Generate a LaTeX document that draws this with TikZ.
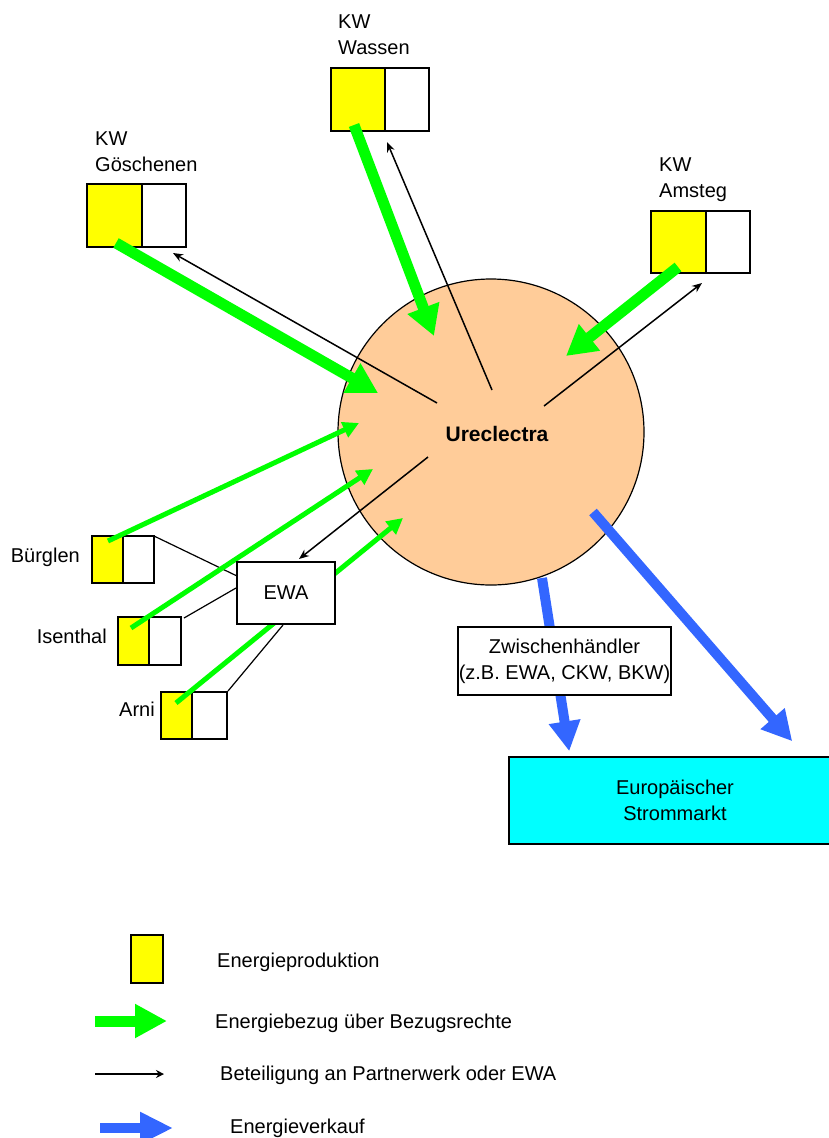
\documentclass[tikz,border=0pt]{standalone}
\usepackage{fontspec}
\setmainfont{Liberation Sans}
\usepackage{xcolor}
\usetikzlibrary{arrows.meta, positioning, calc}
\definecolor{prodyellow}{HTML}{FFFF00}
\definecolor{bezuggreen}{HTML}{00FF00}
\definecolor{verkaufblue}{HTML}{3366FF}
\definecolor{urefill}{HTML}{FFCC99}
\definecolor{marktcyan}{HTML}{00FFFF}

\begin{document}
\begin{tikzpicture}[x=1pt, y=-1pt, font=\fontsize{20}{26}\selectfont]
  \tikzstyle{prod} = [draw, line width=1.5pt, fill=prodyellow, inner sep=0pt, outer sep=0pt, anchor=north west]
  \tikzstyle{share} = [draw, line width=1.5pt, fill=white, inner sep=0pt, outer sep=0pt]
  \tikzstyle{plain} = [draw, line width=1.5pt, fill=white, align=center]
  \tikzstyle{plantlabel} = [inner sep=0pt, align=left]
  \tikzstyle{bezug} = [bezuggreen, line width=11pt, -{Triangle[width=32pt,length=30pt]}]
  \tikzstyle{bezugsmall} = [bezuggreen, line width=5pt, -{Triangle[width=16pt,length=16pt]}]
  \tikzstyle{beteiligung} = [black, line width=1.5pt, -{Stealth[width=8pt,length=10pt]}]
  \tikzstyle{ewaline} = [black, line width=1.2pt]
  \tikzstyle{verkauf} = [verkaufblue, line width=10pt, -{Triangle[width=30pt,length=30pt]}]

  \useasboundingbox (0,0) rectangle (828,1138);

  \node[circle, draw, line width=1.2pt, fill=urefill, minimum size=306pt, inner sep=0pt,
        label={[font=\fontsize{21}{26}\selectfont\bfseries, xshift=6pt, yshift=-2pt]center:Ureclectra}] (Ureclectra) at (491,432) {};

  \node[prod, minimum width=54pt, minimum height=63pt] (WassenProd) at (331,68) {};
  \node[share, minimum width=44pt, minimum height=63pt, right=0pt of WassenProd] (WassenShare) {};
  \node[prod, minimum width=55pt, minimum height=63pt] (GoeschenenProd) at (87,184) {};
  \node[share, minimum width=44pt, minimum height=63pt, right=0pt of GoeschenenProd] (GoeschenenShare) {};
  \node[prod, minimum width=55pt, minimum height=62pt] (AmstegProd) at (651,211) {};
  \node[share, minimum width=44pt, minimum height=62pt, right=0pt of AmstegProd] (AmstegShare) {};
  \node[prod, minimum width=31pt, minimum height=47pt] (BuerglenProd) at (92,536) {};
  \node[share, minimum width=31pt, minimum height=47pt, right=0pt of BuerglenProd] (BuerglenShare) {};
  \node[prod, minimum width=31pt, minimum height=48pt] (IsenthalProd) at (118,617) {};
  \node[share, minimum width=32pt, minimum height=48pt, right=0pt of IsenthalProd] (IsenthalShare) {};
  \node[prod, minimum width=31pt, minimum height=47pt] (ArniProd) at (161,692) {};
  \node[share, minimum width=35pt, minimum height=47pt, right=0pt of ArniProd] (ArniShare) {};

  \node[plantlabel, anchor=north west] (WassenName) at (338,15) {KW\\Wassen};
  \node[plantlabel, anchor=north west] (GoeschenenName) at (95,132) {KW\\Göschenen};
  \node[plantlabel, anchor=north west] (AmstegName) at (659,158) {KW\\Amsteg};
  \node[plantlabel, anchor=base east] (BuerglenName) at (80,562) {Bürglen};
  \node[plantlabel, anchor=base east] (IsenthalName) at (107,643) {Isenthal};
  \node[plantlabel, anchor=base east] (ArniName) at (155,716) {Arni};

  \coordinate (EWAcentre) at (286,593);
  \draw[ewaline] (BuerglenShare.north east) -- ([shift={(-49,-17)}]EWAcentre);
  \draw[ewaline] ([shift={(3,1)}]IsenthalShare.north east) -- ([shift={(-50,-5)}]EWAcentre);
  \draw[ewaline] ([shift={(1,-1)}]ArniShare.north east) -- ([shift={(-3,32)}]EWAcentre);

  \draw[bezug] ([shift={(29,-4)}]GoeschenenProd.south west) -- ($(Ureclectra)+(-113,-39)$);
  \draw[bezug] ([shift={(23,-6)}]WassenProd.south west) -- ($(Ureclectra)+(-57,-96)$);
  \draw[bezug] ([shift={(27,-6)}]AmstegProd.south west) -- ($(Ureclectra)+(75,-76)$);
  \draw[bezugsmall] ([shift={(16,-42)}]BuerglenProd.south west) -- ($(Ureclectra)+(-132,-9)$);
  \draw[bezugsmall] ([shift={(13,-37)}]IsenthalProd.south west) -- ($(Ureclectra)+(-118,37)$);
  \draw[bezugsmall] ([shift={(15,-36)}]ArniProd.south west) -- ($(Ureclectra)+(-88,86)$);

  \draw[beteiligung] ($(Ureclectra)+(-54,-29)$) -- ([shift={(9,6)}]GoeschenenShare.south);
  \draw[beteiligung] ($(Ureclectra)+(1,-42)$) -- ([shift={(2,11)}]WassenShare.south west);
  \draw[beteiligung] ($(Ureclectra)+(53,-26)$) -- ([shift={(-4,10)}]AmstegShare.south west);
  \draw[beteiligung] ($(Ureclectra)+(-63,25)$) -- ([shift={(13,-34)}]EWAcentre);

  \node[plain, fill=marktcyan, minimum width=332pt, minimum height=87pt] (Markt) at (675,800.5) {Europäischer\\Strommarkt};
  \draw[verkauf] ($(Ureclectra)+(51,146)$) -- ([shift={(61,-5)}]Markt.north west);
  \draw[verkauf] ($(Ureclectra)+(102,80)$) -- ([shift={(284,-15)}]Markt.north west);

  \node[plain, minimum width=213pt, minimum height=68pt, inner sep=0pt] (Zwischen) at (564.5,661) {Zwischenhändler\\(z.B. EWA, CKW, BKW)};
  \node[plain, minimum width=98pt, minimum height=62pt] (EWA) at (EWAcentre) {EWA};

  \node[prod, anchor=center, minimum width=32pt, minimum height=48pt] (LegendProd) at (147,959) {};
  \node[plantlabel, anchor=base west] (LegendProdText) at (217,967) {Energieproduktion};
  \coordinate (LegendBezugA) at (95,1021);
  \coordinate (LegendBezugB) at (167,1021);
  \draw[bezug, -{Triangle[width=32pt,length=32pt]}] (LegendBezugA) -- (LegendBezugB);
  \node[plantlabel, anchor=base west] (LegendBezugText) at (215,1028) {Energiebezug über Bezugsrechte};
  \coordinate (LegendBetA) at (95,1074);
  \coordinate (LegendBetB) at (164,1074);
  \draw[beteiligung, -{Stealth[width=8pt,length=8pt]}] (LegendBetA) -- (LegendBetB);
  \node[plantlabel, anchor=base west] (LegendBetText) at (220,1080) {Beteiligung an Partnerwerk oder EWA};
  \coordinate (LegendVerkaufA) at (100,1128);
  \coordinate (LegendVerkaufB) at (173,1128);
  \draw[verkauf, -{Triangle[width=30pt,length=33pt]}] (LegendVerkaufA) -- (LegendVerkaufB);
  \node[plantlabel, anchor=base west] (LegendVerkaufText) at (230,1133) {Energieverkauf};
\end{tikzpicture}
\end{document}
